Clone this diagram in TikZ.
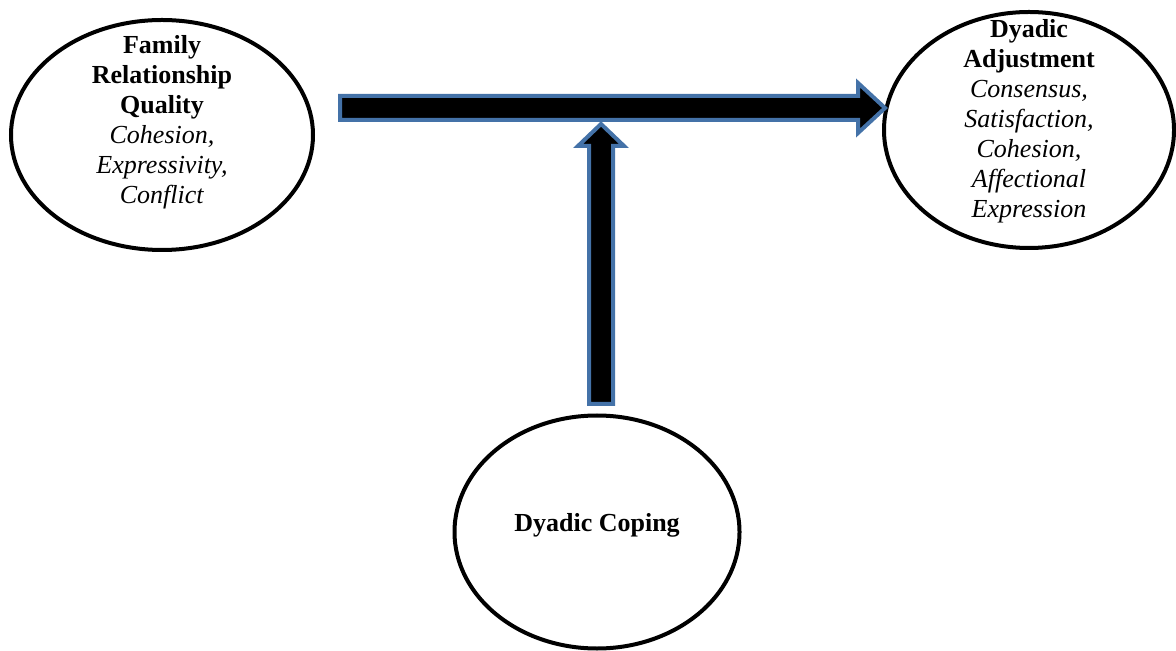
\documentclass[tikz,border=0pt]{standalone}
\usepackage{fontspec}
\setmainfont{Liberation Serif}
\usetikzlibrary{shapes.geometric}
\definecolor{arrowedge}{RGB}{68,114,168}
\tikzset{
  oval/.style={draw=black, line width=2pt, ellipse, inner sep=0pt},
  ovaltext/.style={align=center, inner sep=0pt, font=\fontsize{13}{15}\selectfont},
  fatarrow/.style={fill=black, draw=arrowedge, line width=2pt, line join=miter}
}
\begin{document}
\begin{tikzpicture}[x=0.5pt,y=-0.5pt]
\useasboundingbox (0,0) rectangle (1176,651);
% ellipses
\node[oval, minimum width=151pt, minimum height=115pt] (frq) at (162,135) {};
\node[oval, minimum width=145pt, minimum height=118pt] (da) at (1029,130) {};
\node[oval, minimum width=142.5pt, minimum height=116.5pt] (dc) at (597,532) {};
% texts
\node[ovaltext] (frqt) at ([yshift=6.5pt]frq.center) {\textbf{Family}\\\textbf{Relationship}\\\textbf{Quality}\\\textit{Cohesion,}\\\textit{Expressivity,}\\\textit{Conflict}};
\node[ovaltext] (dat) at ([yshift=4.5pt]da.center) {\textbf{Dyadic}\\\textbf{Adjustment}\\\textit{Consensus,}\\\textit{Satisfaction,}\\\textit{Cohesion,}\\\textit{Affectional}\\\textit{Expression}};
\node[ovaltext] (dct) at ([yshift=3.5pt]dc.center) {\textbf{Dyadic Coping}};
% horizontal arrow
\coordinate (hs) at (340,108);
\coordinate (ht) at (885,108);
\draw[fatarrow] ([yshift=6pt]hs) -- ([xshift=-13.5pt,yshift=6pt]ht) -- ([xshift=-13.5pt,yshift=12.5pt]ht) -- (ht)
  -- ([xshift=-13.5pt,yshift=-12.5pt]ht) -- ([xshift=-13.5pt,yshift=-6pt]ht) -- ([yshift=-6pt]hs) -- cycle;
% vertical arrow
\coordinate (vs) at (601,404);
\coordinate (vt) at (601,124);
\draw[fatarrow] ([xshift=-6pt]vs) -- ([xshift=-6pt,yshift=-11pt]vt) -- ([xshift=-11.5pt,yshift=-11pt]vt) -- (vt)
  -- ([xshift=11.5pt,yshift=-11pt]vt) -- ([xshift=6pt,yshift=-11pt]vt) -- ([xshift=6pt]vs) -- cycle;
\end{tikzpicture}
\end{document}
